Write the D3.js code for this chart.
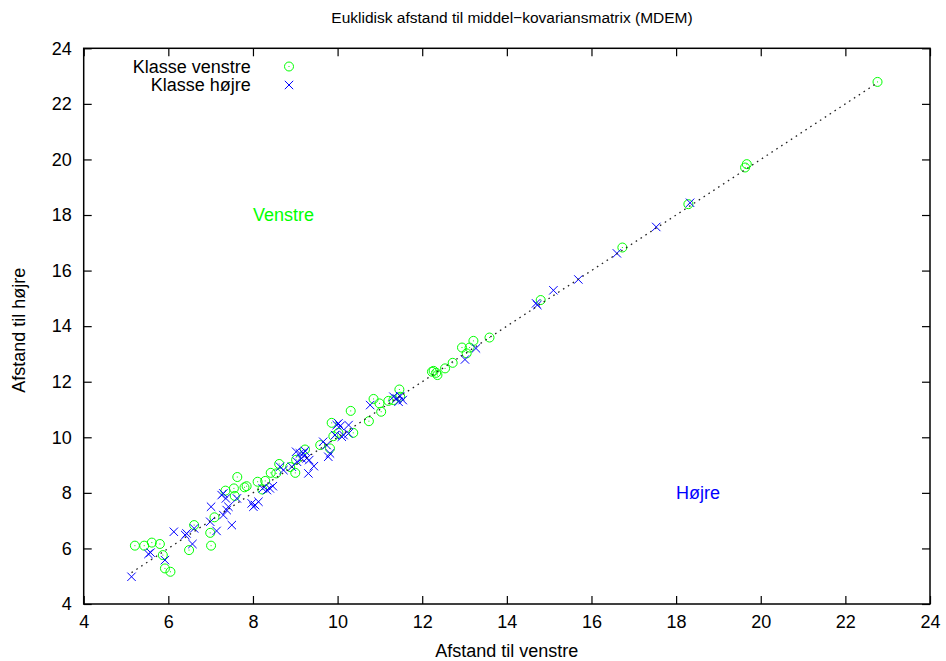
<!DOCTYPE html>
<html>
<head>
<meta charset="utf-8">
<script src="https://cdn.jsdelivr.net/npm/d3@7"></script>
<style>
  body { margin: 0; background: #fff; }
  svg { display: block; font-family: "Liberation Sans", Arial, Helvetica, sans-serif; }
  .axis path { display: none; }
  .axis line { stroke: #000; stroke-width: 1.2; }
  .axis text { font-size: 18px; fill: #000; }
</style>
</head>
<body>
<div id="chart"></div>
<script>
// tick values
const xTicks = [4, 6, 8, 10, 12, 14, 16, 18, 20, 22, 24];
const yTicks = [4, 6, 8, 10, 12, 14, 16, 18, 20, 22, 24];

// Klasse venstre: [afstand til venstre, afstand til højre]
const venstre = [
  [5.21, 6.10], [5.43, 6.10], [5.61, 6.21], [5.80, 6.16], [5.87, 5.76], [5.92, 5.28],
  [6.05, 5.16], [6.49, 5.94], [6.61, 6.84], [6.99, 6.56], [7.01, 6.10], [7.09, 7.12],
  [7.35, 8.08], [7.55, 8.16], [7.63, 8.57], [7.80, 8.20], [7.85, 8.24], [8.11, 8.40],
  [7.57, 7.89], [8.29, 8.43], [8.22, 8.12], [8.42, 8.72], [8.55, 8.70], [8.62, 9.04],
  [8.88, 8.93], [9.02, 9.19], [9.00, 8.72], [9.23, 9.56], [9.59, 9.72], [9.82, 9.60],
  [9.86, 10.52], [9.90, 10.04], [10.02, 10.16], [10.37, 10.16], [10.31, 10.95],
  [10.74, 10.58], [10.85, 11.38], [10.99, 11.22], [11.03, 10.92], [11.20, 11.31],
  [11.32, 11.34], [11.46, 11.72], [11.48, 11.46], [12.23, 12.36], [12.27, 12.39],
  [12.33, 12.32], [12.36, 12.24], [12.54, 12.48], [12.72, 12.68], [12.94, 13.23],
  [13.05, 13.02], [13.12, 13.23], [13.21, 13.47], [13.59, 13.59], [14.80, 14.94],
  [16.73, 16.83], [18.29, 18.39], [19.67, 19.83], [19.63, 19.71], [22.76, 22.79]
];

// Klasse højre
const hojre = [
  [5.13, 4.98], [5.53, 5.80], [5.58, 5.85], [5.92, 5.58], [6.13, 6.60], [6.40, 6.48],
  [6.43, 6.54], [6.57, 6.16], [6.61, 6.72], [7.01, 7.50], [6.99, 6.96], [7.14, 6.63],
  [7.26, 7.92], [7.30, 7.98], [7.36, 7.80], [7.38, 7.38], [7.42, 7.50], [7.50, 6.84],
  [7.62, 7.80], [7.30, 7.20], [7.97, 7.62], [8.05, 7.56], [8.13, 7.68], [8.01, 7.50],
  [8.23, 8.16], [8.33, 8.10], [8.40, 8.16], [8.47, 8.24], [8.64, 8.94], [8.72, 8.82],
  [8.92, 8.94], [9.02, 9.48], [9.04, 9.12], [9.11, 9.42], [9.19, 9.42], [9.23, 9.51],
  [9.27, 9.24], [9.33, 9.18], [9.44, 8.96], [9.31, 8.70], [9.15, 9.24], [9.66, 9.84],
  [9.74, 9.72], [9.82, 9.42], [9.78, 9.30], [9.98, 10.44], [10.02, 10.50], [10.06, 10.40],
  [10.26, 10.44], [9.94, 10.08], [10.10, 10.02], [10.14, 10.08], [10.26, 10.14],
  [10.77, 11.16], [11.32, 11.46], [11.40, 11.40], [11.48, 11.48], [11.54, 11.34],
  [11.44, 11.28], [13.01, 12.80], [13.27, 13.20], [14.69, 14.82], [14.72, 14.76],
  [15.10, 15.29], [15.69, 15.68], [16.60, 16.62], [17.53, 17.57], [18.33, 18.44]
];

// dotted diagonal (equal distance)
const diagonal = [[5.13, 5.13], [22.76, 22.76]];

// text labels placed in data coordinates
const regionLabels = [
  { text: "Venstre", x: 8, y: 18, color: "#00ff00" },
  { text: "Højre", x: 18, y: 8, color: "#0000ff" }
];

const width = 946, height = 661;
const plotLeft = 83.7, plotRight = 930, plotTop = 48.3, plotBottom = 604;

const svg = d3.select("#chart").append("svg")
  .attr("width", width)
  .attr("height", height);

const x = d3.scaleLinear().domain([4, 24]).range([plotLeft, plotRight]);
const y = d3.scaleLinear().domain([4, 24]).range([plotBottom, plotTop]);

// axes with inward ticks (mirrored on top/right)
svg.append("g").attr("class", "axis")
  .attr("transform", `translate(0,${plotBottom})`)
  .call(d3.axisBottom(x).tickValues(xTicks).tickSize(-8).tickPadding(11).tickFormat(d3.format("d")));
svg.append("g").attr("class", "axis")
  .attr("transform", `translate(0,${plotTop})`)
  .call(d3.axisTop(x).tickValues(xTicks).tickSize(-8).tickFormat(""));
svg.append("g").attr("class", "axis")
  .attr("transform", `translate(${plotLeft},0)`)
  .call(d3.axisLeft(y).tickValues(yTicks).tickSize(-8).tickPadding(12).tickFormat(d3.format("d")));
svg.append("g").attr("class", "axis")
  .attr("transform", `translate(${plotRight},0)`)
  .call(d3.axisRight(y).tickValues(yTicks).tickSize(-8).tickFormat(""));

svg.append("rect")
  .attr("x", plotLeft).attr("y", plotTop)
  .attr("width", plotRight - plotLeft).attr("height", plotBottom - plotTop)
  .attr("fill", "none").attr("stroke", "#000").attr("stroke-width", 1.5);

// title and axis labels
svg.append("text")
  .attr("x", 512).attr("y", 23)
  .attr("text-anchor", "middle")
  .style("font-size", "15.5px")
  .text("Euklidisk afstand til middel−kovariansmatrix (MDEM)");

svg.append("text")
  .attr("x", (plotLeft + plotRight) / 2).attr("y", 657)
  .attr("text-anchor", "middle")
  .style("font-size", "18px")
  .text("Afstand til venstre");

svg.append("text")
  .attr("transform", `translate(25,${(plotTop + plotBottom) / 2 + 4}) rotate(-90)`)
  .attr("text-anchor", "middle")
  .style("font-size", "18px")
  .text("Afstand til højre");

// markers
function drawCircle(g, px, py) {
  g.append("circle").attr("cx", px).attr("cy", py).attr("r", 4.5)
    .attr("fill", "none").attr("stroke", "#00ff00").attr("stroke-width", 1);
  g.append("rect").attr("x", px - 0.5).attr("y", py - 0.5).attr("width", 1).attr("height", 1)
    .attr("fill", "#00ff00");
}
function drawCross(g, px, py) {
  const s = 4.2;
  g.append("path")
    .attr("d", `M${px - s},${py - s}L${px + s},${py + s}M${px - s},${py + s}L${px + s},${py - s}`)
    .attr("stroke", "#0000ff").attr("stroke-width", 1).attr("fill", "none");
}

const gV = svg.append("g");
venstre.forEach(d => drawCircle(gV, x(d[0]), y(d[1])));
const gH = svg.append("g");
hojre.forEach(d => drawCross(gH, x(d[0]), y(d[1])));

svg.append("path")
  .datum(diagonal)
  .attr("d", d3.line().x(d => x(d[0])).y(d => y(d[1])))
  .attr("fill", "none")
  .attr("stroke", "#222")
  .attr("stroke-width", 1.3)
  .attr("stroke-dasharray", "1.6,4.2");

// region labels
svg.selectAll(".region").data(regionLabels).enter().append("text")
  .attr("x", d => x(d.x)).attr("y", d => y(d.y))
  .attr("dy", "0.35em")
  .style("font-size", "18px")
  .attr("fill", d => d.color)
  .text(d => d.text);

// legend
const legend = svg.append("g");
legend.append("text").attr("x", 250.7).attr("y", 66.7).attr("dy", "0.35em")
  .attr("text-anchor", "end").style("font-size", "18px").text("Klasse venstre");
drawCircle(legend, 289, 66.5);
legend.append("text").attr("x", 250.7).attr("y", 85).attr("dy", "0.35em")
  .attr("text-anchor", "end").style("font-size", "18px").text("Klasse højre");
drawCross(legend, 289, 85);
</script>
</body>
</html>
